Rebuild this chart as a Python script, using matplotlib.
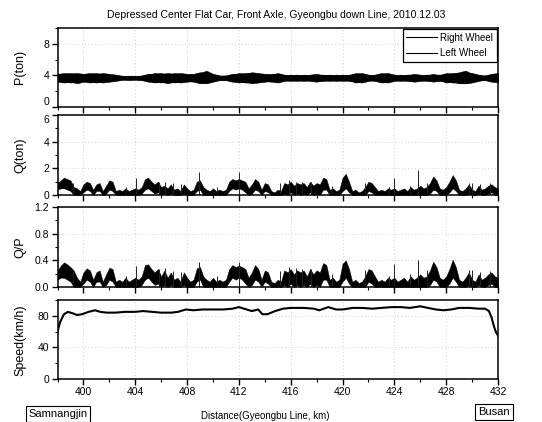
import numpy as np
import matplotlib
matplotlib.use("Agg")
import matplotlib.pyplot as plt
from matplotlib.lines import Line2D
from matplotlib.ticker import MultipleLocator, FormatStrFormatter

plt.rcParams['font.family'] = ['Liberation Sans', 'DejaVu Sans']

# sample positions (km) for the envelope readings
km_p = np.arange(398.0, 432.01, 0.5)     # P envelopes, every 0.5 km
km_q = np.arange(398.0, 432.01, 0.25)    # Q and Q/P envelopes, every 0.25 km

# P (ton) envelopes
p_right_hi = [4.2, 4.3, 4.2, 4.3, 4.2, 4.3, 4.2, 4.3, 4.2, 4.1,
              3.95, 3.95, 3.95, 3.95, 4.1, 4.3, 4.2, 4.3, 4.2, 4.3,
              4.2, 4.1, 4.3, 4.6, 4.2, 4.0, 3.95, 4.1, 4.3, 4.2,
              4.4, 4.3, 4.2, 4.1, 4.3, 4.1, 4.0, 4.1, 4.0, 4.1,
              4.2, 4.0, 4.1, 4.0, 4.1, 4.0, 4.3, 4.2, 4.0, 4.1,
              4.3, 4.2, 4.0, 4.1, 4.0, 4.2, 4.1, 4.0, 4.2, 4.0,
              4.3, 4.2, 4.4, 4.6, 4.2, 4.0, 4.0, 4.2, 4.3]
p_right_lo = [3.2, 3.1, 3.2, 3.0, 3.2, 3.1, 3.2, 3.1, 3.2, 3.3,
              3.45, 3.45, 3.45, 3.45, 3.3, 3.1, 3.2, 3.0, 3.2, 3.1,
              3.2, 3.3, 3.1, 3.0, 3.2, 3.4, 3.45, 3.3, 3.1, 3.2,
              3.0, 3.1, 3.2, 3.3, 3.1, 3.3, 3.4, 3.3, 3.4, 3.3,
              3.2, 3.4, 3.3, 3.4, 3.3, 3.4, 3.1, 3.2, 3.4, 3.3,
              3.1, 3.2, 3.4, 3.3, 3.4, 3.2, 3.3, 3.4, 3.2, 3.4,
              3.1, 3.2, 3.0, 3.0, 3.2, 3.4, 3.4, 3.2, 3.1]
p_left_hi = [4.1, 4.2, 4.3, 4.2, 4.1, 4.2, 4.3, 4.1, 4.1, 4.0,
             3.9, 3.95, 3.9, 4.0, 4.2, 4.2, 4.3, 4.1, 4.3, 4.2,
             4.1, 4.2, 4.4, 4.3, 4.1, 3.95, 4.0, 4.2, 4.2, 4.3,
             4.3, 4.2, 4.1, 4.2, 4.2, 4.0, 4.1, 4.0, 4.1, 4.0,
             4.1, 4.1, 4.0, 4.1, 4.0, 4.1, 4.2, 4.3, 4.1, 4.0,
             4.2, 4.3, 4.1, 4.0, 4.1, 4.1, 4.0, 4.1, 4.1, 4.1,
             4.2, 4.3, 4.3, 4.4, 4.3, 4.1, 3.95, 4.1, 4.2]
p_left_lo = [3.3, 3.2, 3.1, 3.2, 3.3, 3.2, 3.1, 3.3, 3.3, 3.4,
             3.5, 3.45, 3.5, 3.4, 3.2, 3.2, 3.1, 3.3, 3.1, 3.2,
             3.3, 3.2, 3.0, 3.1, 3.3, 3.45, 3.4, 3.2, 3.2, 3.1,
             3.1, 3.2, 3.3, 3.2, 3.2, 3.4, 3.3, 3.4, 3.3, 3.4,
             3.3, 3.3, 3.4, 3.3, 3.4, 3.3, 3.2, 3.1, 3.3, 3.4,
             3.2, 3.1, 3.3, 3.4, 3.3, 3.3, 3.4, 3.3, 3.3, 3.3,
             3.2, 3.1, 3.1, 3.0, 3.1, 3.3, 3.45, 3.3, 3.2]

# Q (ton) envelopes, four readings per km
q_hi = [0.9, 1.1, 1.3, 1.2,  1.1, 0.6, 0.5, 0.3,  0.8, 1.0, 0.9, 0.4,
        0.8, 0.9, 0.3, 0.7,  1.1, 1.0, 0.3, 0.4,  0.3, 0.5, 0.3, 0.4,
        0.5, 0.4, 0.6, 1.2,  1.3, 1.0, 0.8, 1.0,  0.6, 0.7, 0.5, 0.8,
        0.4, 0.5, 0.3, 0.8,  0.5, 0.3, 0.4, 1.0,  1.1, 0.6, 0.4, 0.3,
        0.5, 0.3, 0.4, 0.3,  0.4, 1.0, 1.2, 1.1,  1.2, 1.1, 1.0, 0.5,
        0.8, 1.2, 1.0, 0.4,  0.9, 0.8, 0.3, 0.2,  0.4, 0.3, 0.9, 0.8,
        1.0, 0.7, 0.9, 0.8,  0.9, 0.6, 1.0, 0.7,  0.9, 0.8, 1.3, 1.2,
        0.4, 0.5, 0.3, 0.4,  1.3, 1.6, 1.0, 0.3,  0.4, 0.2, 0.3, 0.6,
        1.0, 0.9, 0.6, 0.3,  0.4, 0.3, 0.5, 0.4,  0.5, 0.3, 0.4, 0.5,
        0.3, 0.6, 0.4, 0.5,  0.7, 0.5, 0.6, 0.9,  1.4, 1.1, 0.5, 0.4,
        0.6, 1.0, 1.5, 1.1,  0.4, 0.3, 0.5, 0.8,  0.4, 0.3, 0.7, 0.4,
        0.5, 0.7, 0.8, 0.6,  0.5]
q_lo = [0.4, 0.5, 0.5, 0.4,  0.3, 0.0, 0.0, 0.0,  0.2, 0.4, 0.3, 0.0,
        0.3, 0.3, 0.0, 0.1,  0.4, 0.3, 0.0, 0.0,  0.0, 0.0, 0.0, 0.0,
        0.0, 0.0, 0.1, 0.4,  0.5, 0.3, 0.1, 0.2,  0.0, 0.1, 0.0, 0.1,
        0.0, 0.0, 0.0, 0.1,  0.0, 0.0, 0.0, 0.3,  0.4, 0.0, 0.0, 0.0,
        0.0, 0.0, 0.0, 0.0,  0.0, 0.3, 0.5, 0.4,  0.5, 0.4, 0.2, 0.0,
        0.1, 0.4, 0.3, 0.0,  0.3, 0.2, 0.0, 0.0,  0.0, 0.0, 0.1, 0.0,
        0.2, 0.0, 0.1, 0.0,  0.1, 0.0, 0.2, 0.0,  0.1, 0.0, 0.4, 0.4,
        0.0, 0.0, 0.0, 0.0,  0.3, 0.5, 0.2, 0.0,  0.0, 0.0, 0.0, 0.0,
        0.3, 0.2, 0.0, 0.0,  0.0, 0.0, 0.0, 0.0,  0.0, 0.0, 0.0, 0.0,
        0.0, 0.0, 0.0, 0.0,  0.0, 0.0, 0.0, 0.1,  0.4, 0.3, 0.0, 0.0,
        0.0, 0.2, 0.5, 0.3,  0.0, 0.0, 0.0, 0.1,  0.0, 0.0, 0.1, 0.0,
        0.0, 0.1, 0.2, 0.0,  0.0]
q_spike_km = [399.2, 403.3, 404.05, 405.8, 406.3, 406.9, 407.5, 408.95, 410.3,
              412.0, 415.2, 415.9, 416.4, 416.9, 417.6, 419.2, 421.7, 423.6,
              424.0, 425.2, 425.8, 426.5, 429.8, 430.0, 430.6, 431.4]
q_spike_val = [0.9, 0.6, 1.25, 1.0, 1.0, 0.9, 0.8, 1.7, 0.6,
               1.7, 0.9, 1.1, 1.0, 1.0, 1.0, 0.7, 0.9, 0.6,
               1.3, 0.7, 1.9, 0.9, 0.9, 0.9, 0.8, 0.9]

# Q/P envelopes, four readings per km
qp_hi = [0.25, 0.32, 0.37, 0.34,  0.30, 0.25, 0.14, 0.08,  0.22, 0.28, 0.25, 0.11,
         0.22, 0.25, 0.08, 0.19,  0.29, 0.27, 0.08, 0.11,  0.08, 0.14, 0.08, 0.11,
         0.14, 0.11, 0.16, 0.33,  0.34, 0.27, 0.22, 0.27,  0.16, 0.25, 0.14, 0.22,
         0.11, 0.14, 0.08, 0.22,  0.14, 0.08, 0.11, 0.28,  0.30, 0.16, 0.11, 0.08,
         0.14, 0.08, 0.11, 0.08,  0.11, 0.27, 0.33, 0.30,  0.32, 0.30, 0.27, 0.14,
         0.22, 0.33, 0.27, 0.11,  0.25, 0.22, 0.08, 0.06,  0.11, 0.08, 0.25, 0.22,
         0.27, 0.19, 0.25, 0.22,  0.25, 0.16, 0.27, 0.19,  0.25, 0.22, 0.36, 0.33,
         0.11, 0.14, 0.08, 0.11,  0.35, 0.40, 0.27, 0.08,  0.11, 0.06, 0.08, 0.16,
         0.27, 0.25, 0.16, 0.08,  0.11, 0.08, 0.14, 0.11,  0.14, 0.08, 0.11, 0.14,
         0.08, 0.16, 0.11, 0.14,  0.19, 0.14, 0.16, 0.25,  0.38, 0.30, 0.14, 0.11,
         0.16, 0.27, 0.41, 0.30,  0.11, 0.08, 0.14, 0.22,  0.11, 0.08, 0.19, 0.11,
         0.14, 0.19, 0.22, 0.16,  0.14]
qp_lo = [0.11, 0.14, 0.14, 0.11,  0.08, 0.0, 0.0, 0.0,  0.05, 0.11, 0.08, 0.0,
         0.08, 0.08, 0.0, 0.03,  0.11, 0.08, 0.0, 0.0,  0.0, 0.0, 0.0, 0.0,
         0.0, 0.0, 0.03, 0.11,  0.14, 0.08, 0.03, 0.05,  0.0, 0.03, 0.0, 0.03,
         0.0, 0.0, 0.0, 0.03,  0.0, 0.0, 0.0, 0.08,  0.11, 0.0, 0.0, 0.0,
         0.0, 0.0, 0.0, 0.0,  0.0, 0.08, 0.14, 0.11,  0.14, 0.11, 0.05, 0.0,
         0.03, 0.11, 0.08, 0.0,  0.08, 0.05, 0.0, 0.0,  0.0, 0.0, 0.03, 0.0,
         0.05, 0.0, 0.03, 0.0,  0.03, 0.0, 0.05, 0.0,  0.03, 0.0, 0.11, 0.11,
         0.0, 0.0, 0.0, 0.0,  0.08, 0.14, 0.05, 0.0,  0.0, 0.0, 0.0, 0.0,
         0.08, 0.05, 0.0, 0.0,  0.0, 0.0, 0.0, 0.0,  0.0, 0.0, 0.0, 0.0,
         0.0, 0.0, 0.0, 0.0,  0.0, 0.0, 0.0, 0.03,  0.11, 0.08, 0.0, 0.0,
         0.0, 0.05, 0.14, 0.08,  0.0, 0.0, 0.0, 0.03,  0.0, 0.0, 0.03, 0.0,
         0.0, 0.03, 0.05, 0.0,  0.0]
qp_spike_km = [399.2, 403.3, 404.05, 405.8, 406.3, 406.9, 407.5, 408.95, 410.3,
               412.0, 415.2, 415.9, 416.4, 416.9, 417.6, 419.2, 421.7, 423.6,
               424.0, 425.2, 425.8, 426.5, 429.8, 430.0, 430.6, 431.4]
qp_spike_val = [0.25, 0.17, 0.32, 0.27, 0.28, 0.24, 0.22, 0.38, 0.17,
                0.37, 0.24, 0.3, 0.28, 0.27, 0.27, 0.19, 0.25, 0.17,
                0.35, 0.19, 0.40, 0.25, 0.25, 0.25, 0.22, 0.24]

# Speed (km/h)
speed_km = [398.0, 398.2, 398.5, 398.8, 399.2, 399.5, 399.9, 400.4, 400.9, 401.3,
            401.8, 402.5, 403.2, 404.0, 404.6, 405.3, 406.0, 406.8, 407.3, 407.9,
            408.5, 409.2, 410.0, 410.8, 411.5, 412.0, 412.6, 413.0, 413.5, 413.8,
            414.2, 414.8, 415.4, 416.0, 417.0, 417.8, 418.2, 418.9, 419.5, 420.0,
            420.8, 421.5, 422.3, 423.0, 423.8, 424.5, 425.2, 426.0, 426.6, 427.2,
            427.8, 428.4, 429.0, 429.8, 430.5, 431.0, 431.3, 431.5, 431.7, 431.85, 432.0]
speed_val = [60, 72, 82, 85, 83, 81, 82, 85, 87, 85,
             84, 84, 85, 85, 86, 85, 84, 84, 85, 88,
             87, 88, 88, 88, 89, 91, 88, 86, 88, 82,
             82, 86, 89, 90, 90, 89, 87, 91, 88, 88,
             90, 90, 89, 90, 91, 91, 90, 92, 90, 88,
             87, 88, 90, 90, 89, 89, 86, 78, 66, 59, 55]

title = "Depressed Center Flat Car, Front Axle, Gyeongbu down Line, 2010.12.03"

W, H = 542, 422
fig = plt.figure(figsize=(W / 100, H / 100), dpi=100)


def rect(top, bottom):
    return [57.5 / W, 1 - bottom / H, 440.5 / W, (bottom - top) / H]


ax_p = fig.add_axes(rect(28, 107))
ax_q = fig.add_axes(rect(115, 195))
ax_qp = fig.add_axes(rect(207, 287))
ax_s = fig.add_axes(rect(300, 379))
axes = [ax_p, ax_q, ax_qp, ax_s]

# P, right and left wheel
ax_p.fill_between(km_p, p_right_lo, p_right_hi, color='k', lw=0.4)
ax_p.fill_between(km_p, p_left_lo, p_left_hi, color='k', lw=0.4)

# Q
ax_q.fill_between(km_q, q_lo, q_hi, color='k', lw=0.3)
ax_q.vlines(q_spike_km, 0, q_spike_val, color='#222222', lw=0.7)

# Q/P
ax_qp.fill_between(km_q, qp_lo, qp_hi, color='k', lw=0.3)
ax_qp.vlines(qp_spike_km, 0, qp_spike_val, color='#222222', lw=0.7)

# Speed
ax_s.plot(speed_km, speed_val, color='k', lw=1.5)

limits = [(0, 10, 4, 2), (0, 6, 2, 1), (0, 1.2, 0.4, 0.2), (0, 100, 40, 20)]
for ax, (lo, hi, maj, mnr) in zip(axes, limits):
    ax.set_xlim(398, 432)
    ax.set_ylim(lo, hi)
    ax.xaxis.set_major_locator(MultipleLocator(4))
    ax.xaxis.set_minor_locator(MultipleLocator(2))
    ax.yaxis.set_major_locator(MultipleLocator(maj))
    ax.yaxis.set_minor_locator(MultipleLocator(mnr))
    ax.tick_params(which='major', direction='out', length=4, width=1.0,
                   labelsize=7.5, pad=2)
    ax.tick_params(which='minor', direction='out', length=2.5, width=0.8)
    ax.grid(True, which='major', color='#c4c4c4', ls=(0, (1, 3)), lw=0.6)
    ax.set_axisbelow(True)
    for s in ax.spines.values():
        s.set_linewidth(1.1)
    if ax is not ax_s:
        ax.tick_params(labelbottom=False)

ax_p.set_yticks([0, 4, 8])
ax_q.set_yticks([0, 2, 4, 6])
ax_qp.yaxis.set_major_formatter(FormatStrFormatter('%.1f'))

# keep the stacked "0" (P) and "6" (Q) labels apart
fig.canvas.draw()
ax_p.get_yticklabels()[0].set_va('bottom')
ax_q.get_yticklabels()[-1].set_va('top')

handles = [Line2D([], [], color='k', lw=0.8), Line2D([], [], color='k', lw=0.8)]
leg = ax_p.legend(handles, ['Right Wheel', 'Left Wheel'], loc='upper right',
                  fontsize=7, fancybox=False, edgecolor='k', framealpha=1,
                  borderaxespad=0.15, handlelength=3.2, labelspacing=0.55,
                  borderpad=0.35, handletextpad=0.3)
leg.get_frame().set_linewidth(0.9)

ylabels = [('P(ton)', 67), ('Q(ton)', 155), ('Q/P', 247), ('Speed(km/h)', 340)]
for txt, yc in ylabels:
    fig.text(20 / W, 1 - yc / H, txt, rotation=90, ha='center', va='center',
             fontsize=9)

fig.text(276 / W, 1 - 15 / H, title, ha='center', va='center', fontsize=7.5)
fig.text(265 / W, 1 - 416 / H, 'Distance(Gyeongbu Line, km)', ha='center',
         va='center', fontsize=7)
box = dict(boxstyle='square,pad=0.25', fc='white', ec='k', lw=0.8)
fig.text(58 / W, 1 - 414 / H, 'Samnangjin', ha='center', va='center',
         fontsize=8, bbox=box)
fig.text(494 / W, 1 - 412 / H, 'Busan', ha='center', va='center',
         fontsize=8, bbox=box)

fig.savefig('out.png', dpi=100)
